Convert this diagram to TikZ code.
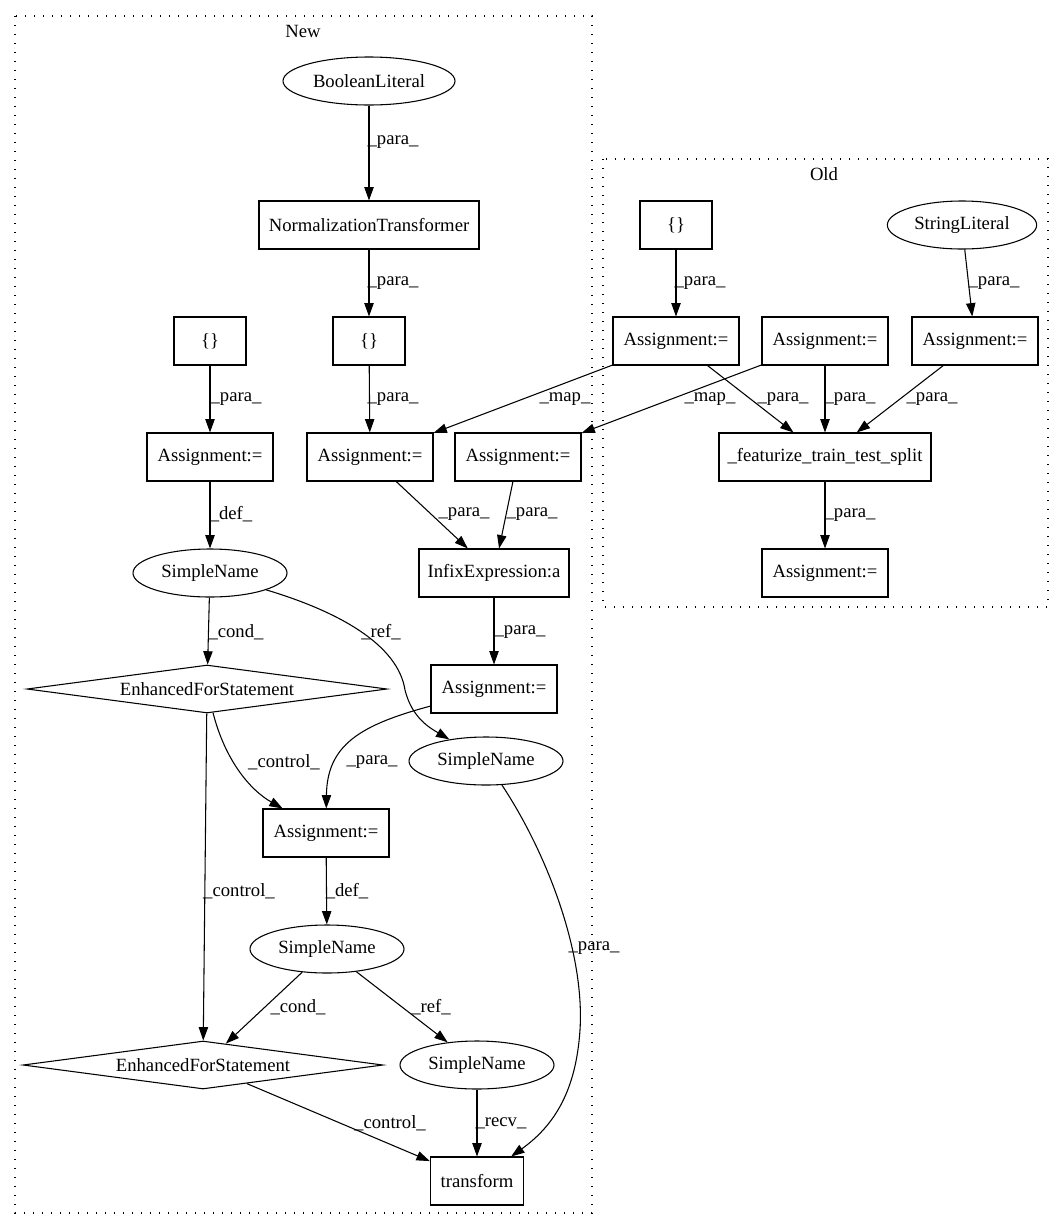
\documentclass[tikz,border=0pt]{standalone}
\usepackage{fontspec}
\setmainfont{Liberation Serif}
\usetikzlibrary{shapes.geometric,arrows.meta}
\begin{document}
\begin{tikzpicture}[x=0.75pt,y=-0.75pt,
  every node/.style={font=\fontsize{14}{16}\selectfont},
  box/.style={draw,line width=0.8pt,rectangle,inner sep=0pt,minimum height=36pt},
  ell/.style={draw,line width=0.8pt,ellipse,inner sep=0pt,minimum height=36pt},
  dia/.style={draw,line width=0.8pt,diamond,aspect=7.5,inner sep=0pt,minimum width=270pt,minimum height=36pt},
  edge/.style={draw,line width=0.8pt,-{Triangle[length=10pt,width=7pt]}},
  lbl/.style={inner sep=0pt},
  cluster/.style={draw,line width=0.9pt,dash pattern=on 0.9pt off 5.85pt}]
\useasboundingbox (0,0) rectangle (1064,1232);
% clusters
\draw[cluster] (15,16) rectangle (592,1213);
\node[lbl] (newlbl) at (303,31) {New};
\draw[cluster] (603,159) rectangle (1048,607);
\node[lbl] (oldlbl) at (824,174) {Old};
% New nodes
\node[ell,minimum width=129pt] (bool) at (369,81) {BooleanLiteral};
\node[box,minimum width=165pt] (norm) at (369,225) {NormalizationTransformer};
\node[box,minimum width=54pt] (brL) at (210,341) {\{\}};
\node[box,minimum width=54pt] (brR) at (369,341) {\{\}};
\node[box,minimum width=94.5pt] (asL) at (210,457) {Assignment:=};
\node[box,minimum width=94.5pt] (asM) at (370,457) {Assignment:=};
\node[box,minimum width=94.5pt] (asR) at (518,457) {Assignment:=};
\node[ell,minimum width=115.5pt] (sn1) at (210,573) {SimpleName};
\node[box,minimum width=112.5pt] (infix) at (494,573) {InfixExpression:a};
\node[dia] (efs1) at (207,689) {EnhancedForStatement};
\node[box,minimum width=94.5pt] (asC) at (494,689) {Assignment:=};
\node[ell,minimum width=115.5pt] (sn2) at (486,761) {SimpleName};
\node[box,minimum width=94.5pt] (asLow) at (326,833) {Assignment:=};
\node[ell,minimum width=115.5pt] (sn3) at (327,949) {SimpleName};
\node[dia] (efs2) at (203,1065) {EnhancedForStatement};
\node[ell,minimum width=115.5pt] (sn4) at (477,1065) {SimpleName};
\node[box,minimum width=70pt] (trans) at (477,1181) {transform};
% Old nodes
\node[box,minimum width=54pt] (brO) at (676,225) {\{\}};
\node[ell,minimum width=112pt] (strL) at (962,225) {StringLiteral};
\node[box,minimum width=94.5pt] (o1) at (676,341) {Assignment:=};
\node[box,minimum width=94.5pt] (o2) at (825,341) {Assignment:=};
\node[box,minimum width=94.5pt] (o3) at (975,341) {Assignment:=};
\node[box,minimum width=159pt] (feat) at (825,457) {\_featurize\_train\_test\_split};
\node[box,minimum width=94.5pt] (oBot) at (825,573) {Assignment:=};
% edges
\path[edge] (bool) -- (norm) node[lbl,at={(393,142)}] {\_para\_};
\path[edge] (norm) -- (brR) node[lbl,at={(393,283)}] {\_para\_};
\path[edge] (brL) -- (asL) node[lbl,at={(236,399)}] {\_para\_};
\path[edge] (brR) -- (asM) node[lbl,at={(393,399)}] {\_para\_};
\path[edge] (asL) -- (sn1) node[lbl,at={(231,514)}] {\_def\_};
\path[edge] (asM) -- (infix) node[lbl,at={(464,514)}] {\_para\_};
\path[edge] (asR) -- (infix) node[lbl,at={(532,514)}] {\_para\_};
\path[edge] (o1) -- (asM) node[lbl,at={(565,399)}] {\_map\_};
\path[edge] (o2) -- (asR) node[lbl,at={(710,399)}] {\_map\_};
\path[edge] (brO) -- (o1) node[lbl,at={(700,283)}] {\_para\_};
\path[edge] (strL) -- (o3) node[lbl,at={(994,283)}] {\_para\_};
\path[edge] (o1) -- (feat) node[lbl,at={(783,399)}] {\_para\_};
\path[edge] (o2) -- (feat) node[lbl,at={(850,399)}] {\_para\_};
\path[edge] (o3) -- (feat) node[lbl,at={(932,399)}] {\_para\_};
\path[edge] (feat) -- (oBot) node[lbl,at={(850,515)}] {\_para\_};
\path[edge] (infix) -- (asC) node[lbl,at={(520,632)}] {\_para\_};
\path[edge] (sn1) -- (efs1) node[lbl,at={(236,632)}] {\_cond\_};
\path[edge] (sn1) .. controls (340,612) and (398,645) .. (405,690) .. controls (412,718) and (430,728) .. (sn2) node[lbl,at={(381,632)}] {\_ref\_};
\path[edge] (efs1) .. controls (225,760) and (250,790) .. (asLow) node[lbl,at={(284,762)}] {\_control\_};
\path[edge] (asC) .. controls (360,725) and (327,745) .. (asLow) node[lbl,at={(372,762)}] {\_para\_};
\path[edge] (efs1) -- (efs2) node[lbl,at={(239,891)}] {\_control\_};
\path[edge] (asLow) -- (sn3) node[lbl,at={(347,891)}] {\_def\_};
\path[edge] (sn2) .. controls (545,850) and (585,950) .. (580,1030) .. controls (576,1090) and (555,1125) .. (trans) node[lbl,at={(594,948)}] {\_para\_};
\path[edge] (sn3) -- (efs2) node[lbl,at={(298,1007)}] {\_cond\_};
\path[edge] (sn3) -- (sn4) node[lbl,at={(431,1007)}] {\_ref\_};
\path[edge] (efs2) -- (trans) node[lbl,at={(390,1123)}] {\_control\_};
\path[edge] (sn4) -- (trans) node[lbl,at={(501,1123)}] {\_recv\_};
\end{tikzpicture}
\end{document}
